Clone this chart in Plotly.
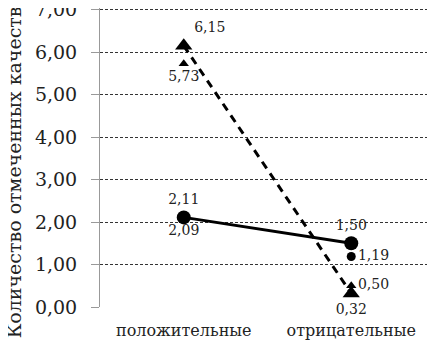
import plotly.graph_objects as go

categories = ["положительные", "отрицательные"]
big_circles = [2.11, 1.50]      # solid line, circles
big_triangles = [6.15, 0.32]    # dashed line, triangles
small_circles = [2.09, 1.19]
small_triangles = [5.73, 0.50]
y_ticks = [0, 1, 2, 3, 4, 5, 6, 7]
y_title = "Количество отмеченных качеств"

FONT = "DejaVu Serif"
LBL = dict(family=FONT, size=14, color="#222")

fig = go.Figure()

fig.add_trace(go.Scatter(
    x=categories, y=big_triangles, mode="lines+markers+text",
    line=dict(color="black", width=3, dash="8px,6px"),
    marker=dict(symbol="triangle-up", size=15, color="black"),
    texttemplate="%{y:.2f}", textposition=["top right", "bottom center"],
    textfont=LBL, cliponaxis=False, showlegend=False))

fig.add_trace(go.Scatter(
    x=categories, y=big_circles, mode="lines+markers+text",
    line=dict(color="black", width=3),
    marker=dict(symbol="circle", size=14, color="black"),
    texttemplate="%{y:.2f}", textposition=["top center", "top center"],
    textfont=LBL, cliponaxis=False, showlegend=False))

fig.add_trace(go.Scatter(
    x=categories, y=small_circles, mode="markers+text",
    marker=dict(symbol="circle", size=9, color="black"),
    texttemplate="%{y:.2f}", textposition=["bottom center", "middle right"],
    textfont=LBL, cliponaxis=False, showlegend=False))

fig.add_trace(go.Scatter(
    x=categories, y=small_triangles, mode="markers+text",
    marker=dict(symbol="triangle-up", size=9, color="black"),
    texttemplate="%{y:.2f}", textposition=["bottom center", "middle right"],
    textfont=LBL, cliponaxis=False, showlegend=False))

fig.add_annotation(
    text=y_title, textangle=-90, xref="paper", yref="paper",
    x=-0.254, y=0.45, xanchor="center", yanchor="middle", showarrow=False,
    font=dict(family=FONT, size=19, color="#222"))

# page body adds an 8px offset; figure sized to fill the 435x348 window
fig.update_layout(
    width=427, height=340,
    margin=dict(l=92, r=0, t=0, b=41, autoexpand=False),
    paper_bgcolor="white", plot_bgcolor="white",
    separators=", ",
    font=dict(family=FONT, color="#222"),
)
fig.update_xaxes(
    type="category", range=[-0.5, 1.5], showgrid=False, showline=False,
    ticks="", automargin=False, ticklabelstandoff=12,
    tickfont=dict(family=FONT, size=16, color="#222"))
fig.update_yaxes(
    range=[0, 7.04], tickvals=y_ticks, tickformat=".2f", automargin=False,
    showgrid=True, gridcolor="#333", gridwidth=1, griddash="3px,2px",
    zeroline=False, showline=True, linecolor="#999", linewidth=1,
    ticks="outside", ticklen=8, tickcolor="#999", ticklabeloverflow="allow",
    ticklabelstandoff=10, tickfont=dict(family=FONT, size=19, color="#222"))

fig.write_html("out.html")
